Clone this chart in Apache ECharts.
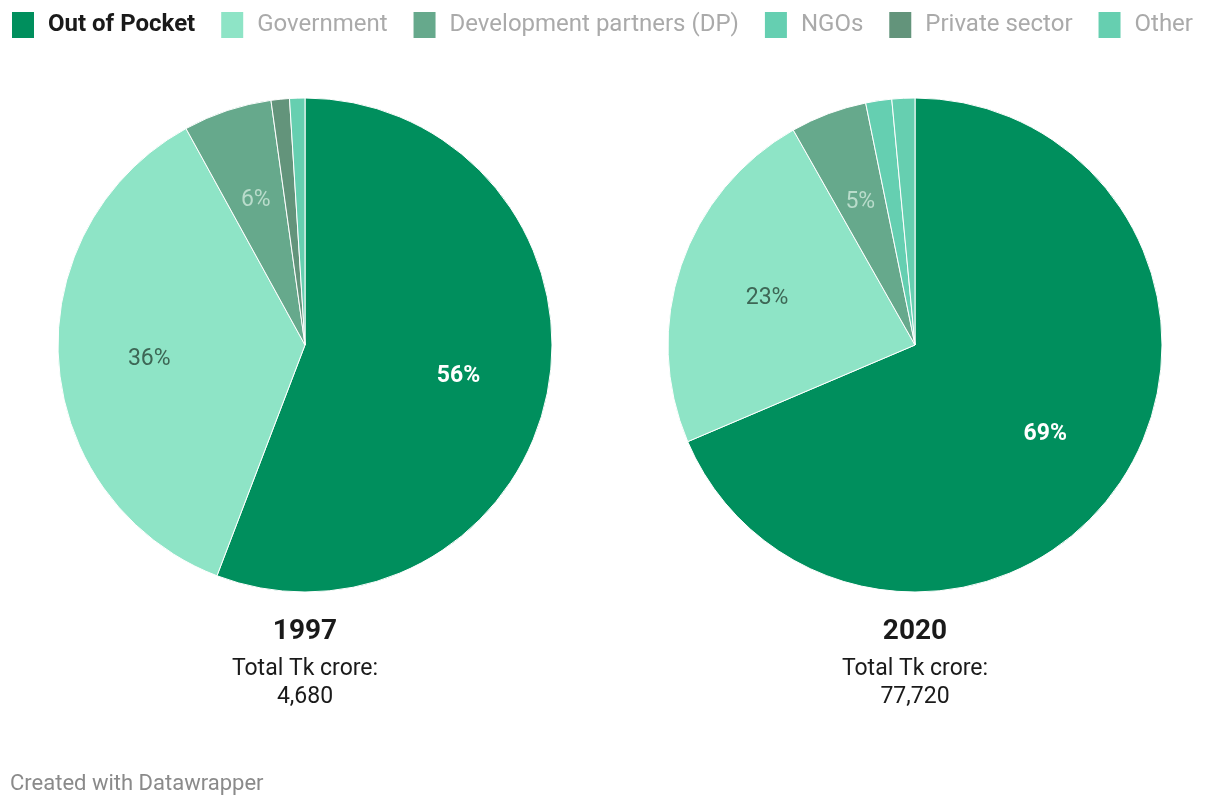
<!DOCTYPE html>
<html>
<head>
<meta charset="utf-8">
<script src="https://cdn.jsdelivr.net/npm/echarts@6/dist/echarts.min.js"></script>
<style>
html,body{margin:0;padding:0;background:#fff;}
#chart{width:1220px;height:806px;}
</style>
</head>
<body>
<div id="chart"></div>
<script>
const categories = ['Out of Pocket', 'Government', 'Development partners (DP)', 'NGOs', 'Private sector', 'Other'];
const values1997 = [55.8, 36.2, 5.8, 0, 1.2, 1.0];
const values2020 = [68.6, 23.2, 5.0, 1.7, 0, 1.5];
const years = ['1997', '2020'];
const totals = ['4,680', '77,720'];

const colors = ['#008f5d', '#8ee4c6', '#66a98c', '#65cfb1', '#63947b', '#66cfb0'];
const labelColors = ['#ffffff', '#3d6655', '#b9dccb', '#ffffff', '#ffffff', '#ffffff'];
const labelWeights = ['bold', 'normal', 'normal', 'normal', 'normal', 'normal'];

const centers = [[305, 345], [915, 345]];
const R = 247;
const FONT = 'Roboto, "Noto Sans", sans-serif';

function buildData(values) {
  return categories.map((c, i) => ({
    name: c,
    value: values[i],
    itemStyle: { color: colors[i] },
    label: { color: labelColors[i], fontWeight: labelWeights[i] }
  })).filter(d => d.value > 0);
}

const series = [];
[values1997, values2020].forEach((vals, k) => {
  series.push({
    type: 'pie',
    center: centers[k],
    radius: [0, R],
    startAngle: 90,
    clockwise: true,
    silent: true,
    data: buildData(vals),
    itemStyle: { borderColor: '#ffffff', borderWidth: 1 },
    label: { show: false },
    labelLine: { show: false },
    emphasis: { disabled: true }
  });
  // label-only overlay so labels sit at ~0.62 R
  series.push({
    type: 'pie',
    center: centers[k],
    radius: [R * 0.24, R],
    startAngle: 90,
    clockwise: true,
    silent: true,
    legendHoverLink: false,
    data: buildData(vals).map(d => Object.assign({}, d, { itemStyle: { color: 'rgba(0,0,0,0)', borderWidth: 0 } })),
    label: {
      show: true,
      position: 'inside',
      fontFamily: FONT,
      fontSize: 23,
      offset: [0, 3],
      formatter: p => (p.value >= 4.5 ? Math.round(p.value) + '%' : '')
    },
    labelLine: { show: false },
    emphasis: { disabled: true }
  });
});

const titles = years.map((y, k) => ({
  text: y,
  subtext: 'Total Tk crore:\n' + totals[k],
  left: centers[k][0],
  top: 616,
  padding: 0,
  textAlign: 'center',
  itemGap: 7,
  textStyle: { fontFamily: FONT, fontSize: 28, fontWeight: 'bold', color: '#1a1a1a', lineHeight: 32 },
  subtextStyle: { fontFamily: FONT, fontSize: 23, color: '#1a1a1a', lineHeight: 28, align: 'center' }
}));
titles.push({
  text: 'Created with Datawrapper',
  left: 10,
  top: 771,
  padding: 0,
  textStyle: { fontFamily: FONT, fontSize: 22, fontWeight: 'normal', color: '#8a8a8a', lineHeight: 26 }
});

const option = {
  animation: false,
  backgroundColor: '#ffffff',
  title: titles,
  legend: {
    left: 10,
    top: 10,
    padding: 0,
    icon: 'rect',
    itemWidth: 24,
    itemHeight: 28,
    itemGap: 24,
    selectedMode: false,
    data: categories.map((c, i) => ({
      name: c,
      textStyle: i === 0
        ? { color: '#1a1a1a', fontWeight: 'bold' }
        : { color: '#aaaaaa', fontWeight: 'normal' }
    })),
    textStyle: { fontFamily: FONT, fontSize: 24, padding: [0, 0, 0, 8] }
  },
  series: series
};

const chart = echarts.init(document.getElementById('chart'), null, { renderer: 'canvas' });
chart.setOption(option);
</script>
</body>
</html>
